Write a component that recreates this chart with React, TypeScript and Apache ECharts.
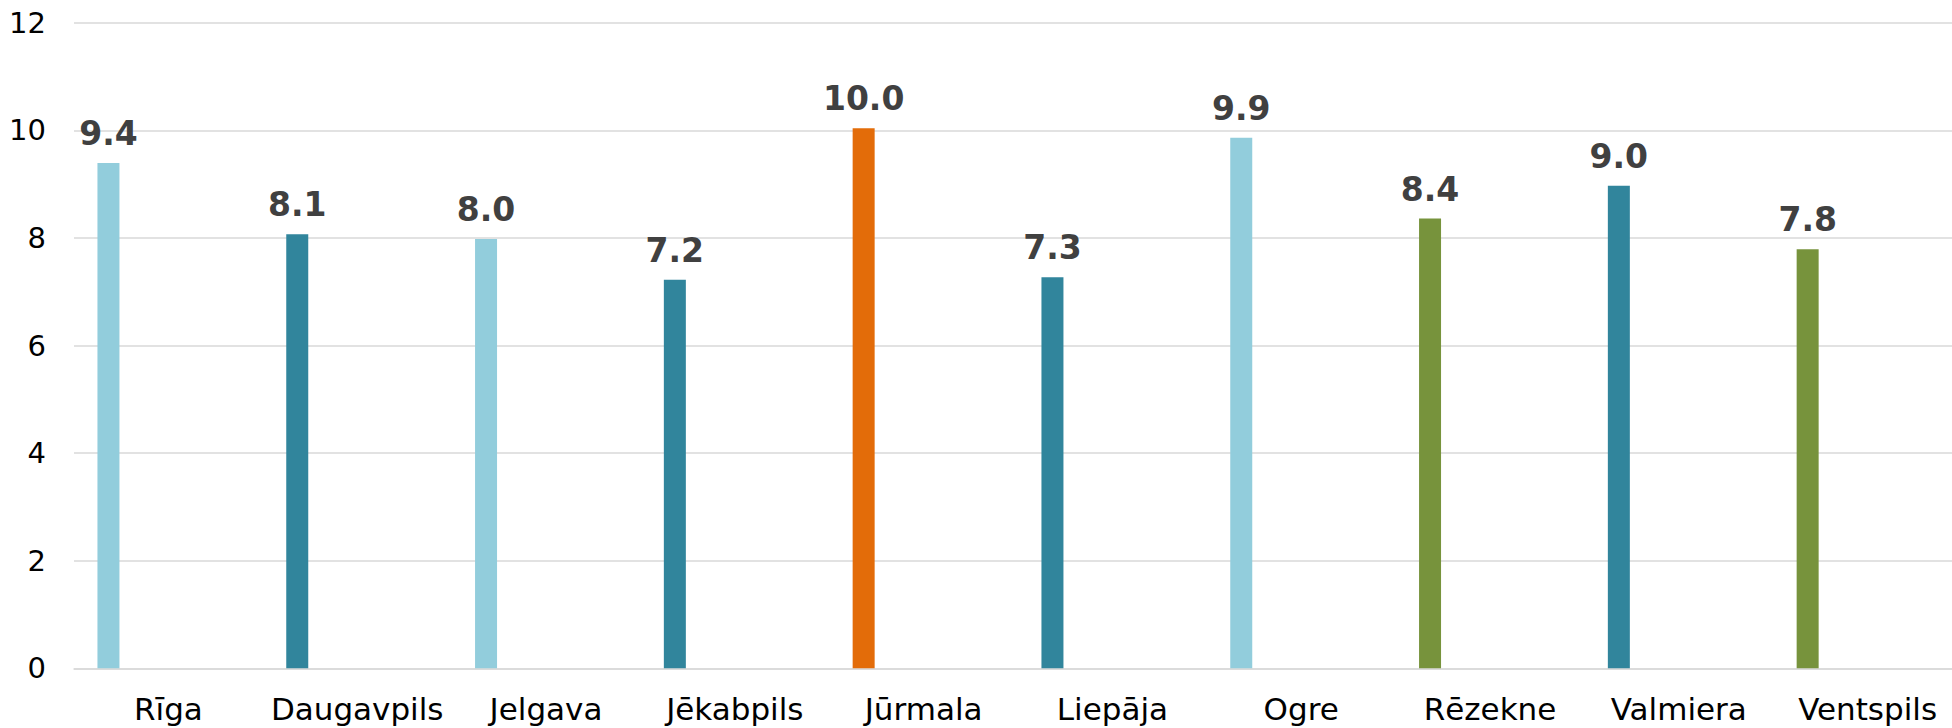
import React, { useEffect, useRef } from "react";
import * as echarts from "echarts";

const categories = ["Rīga", "Daugavpils", "Jelgava", "Jēkabpils", "Jūrmala", "Liepāja", "Ogre", "Rēzekne", "Valmiera", "Ventspils"];
const values = [9.39, 8.07, 7.98, 7.22, 10.04, 7.27, 9.86, 8.36, 8.97, 7.79];
const barColors = ["#92CDDC", "#31859C", "#92CDDC", "#31859C", "#E36C09", "#31859C", "#92CDDC", "#77933C", "#31859C", "#77933C"];
const yTicks = { min: 0, max: 12, interval: 2 };

export default function App() {
  const ref = useRef<HTMLDivElement>(null);
  useEffect(() => {
    if (!ref.current) return;
    const chart = echarts.init(ref.current, undefined, { renderer: "svg" });
    chart.setOption({
      animation: false,
      backgroundColor: "#ffffff",
      textStyle: { fontFamily: "DejaVu Sans" },
      grid: { left: 74, right: -10, top: 22.7, bottom: 59.7, containLabel: false, outerBoundsMode: "none" },
      xAxis: {
        type: "category",
        data: categories,
        axisLine: { show: true, lineStyle: { color: "#D9D9D9", width: 1.5 } },
        axisTick: { show: false },
        axisLabel: { color: "#000000", fontSize: 31, margin: 25, interval: 0, fontFamily: "DejaVu Sans" },
      },
      yAxis: {
        type: "value",
        min: yTicks.min,
        max: yTicks.max,
        interval: yTicks.interval,
        axisLine: { show: false },
        axisTick: { show: false },
        splitLine: { lineStyle: { color: "#D9D9D9", width: 1.5 } },
        axisLabel: { color: "#000000", fontSize: 29, margin: 28, fontFamily: "DejaVu Sans" },
      },
      series: [
        {
          type: "bar",
          barWidth: 22,
          barGap: "445%",
          data: values.map((v, i) => ({ value: v, itemStyle: { color: barColors[i] } })),
          label: {
            show: true,
            position: "top",
            distance: 13,
            color: "#404040",
            fontSize: 33,
            fontWeight: "bold",
            fontFamily: "DejaVu Sans",
            formatter: (p: any) => Number(p.value).toFixed(1),
          },
        },
        {
          type: "bar",
          barWidth: 22,
          data: categories.map(() => null),
        },
      ],
    });
    return () => chart.dispose();
  }, []);
  return <div ref={ref} style={{ position: "fixed", left: 0, top: 0, width: 1952, height: 728 }} />;
}
